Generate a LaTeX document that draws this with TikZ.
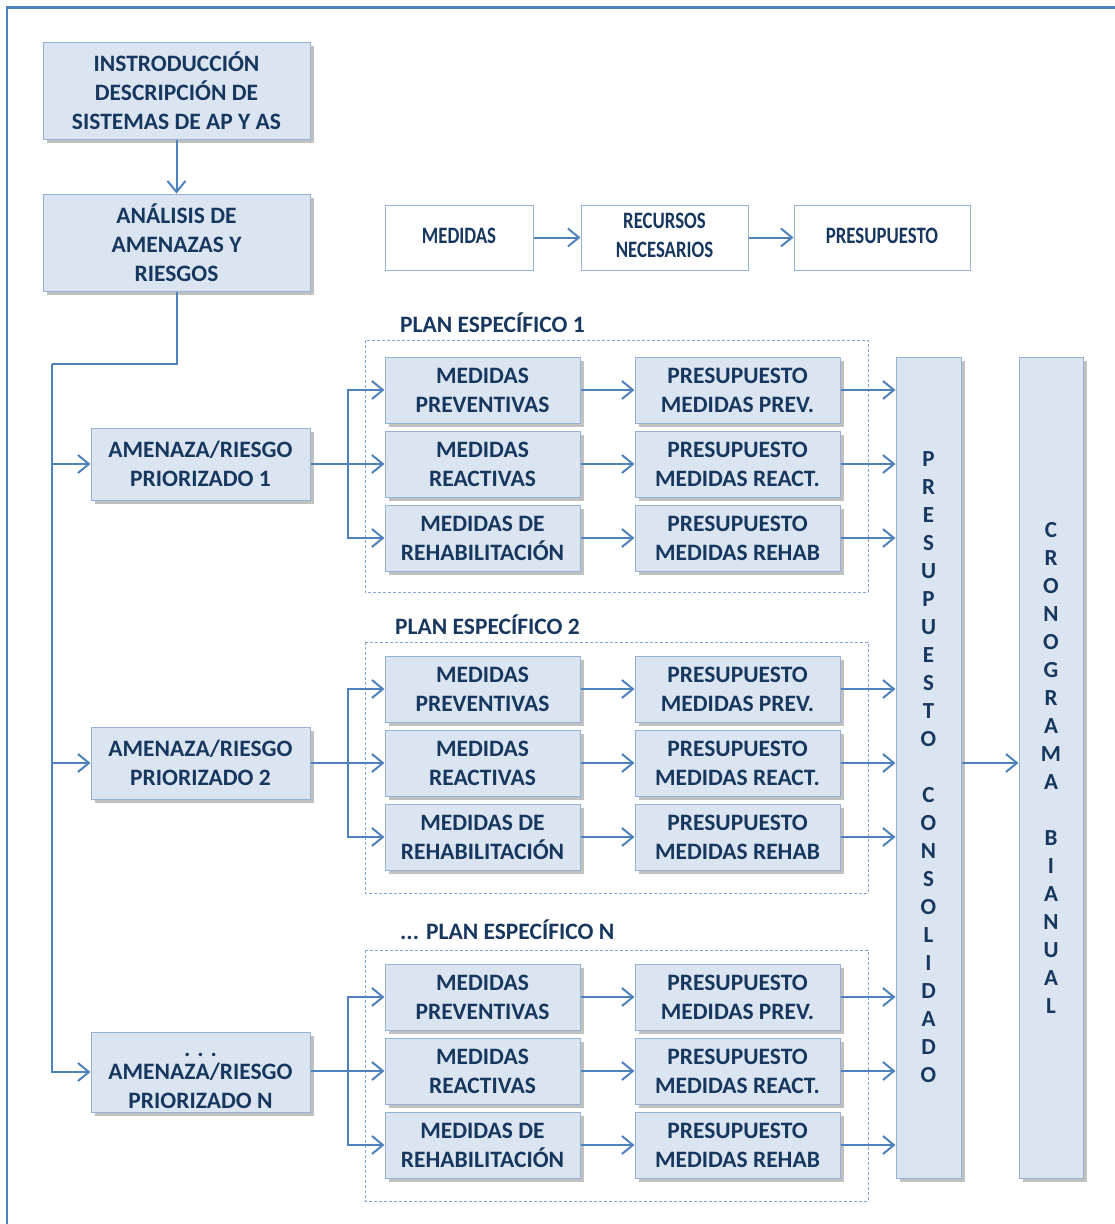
\documentclass[tikz,border=0pt]{standalone}
\usepackage{fontspec}
\usepackage{graphicx}
\setmainfont{Carlito}[BoldFont={Carlito Bold}]
\newcommand\narrowtxt[1]{\scalebox{0.8}[1]{\begin{tabular}{@{}c@{}}#1\end{tabular}}}
\usetikzlibrary{arrows.meta,shadows}
\definecolor{navy}{HTML}{17375E}
\definecolor{boxfill}{HTML}{DBE5F1}
\definecolor{boxline}{HTML}{95B3D7}
\definecolor{linkblue}{HTML}{4F81BD}
\definecolor{planline}{HTML}{7FA6D6}
\tikzset{>={Straight Barb[length=11pt,width=18pt]}}
\tikzset{
  txt/.style={text=navy, align=center, inner sep=0pt, font=\fontsize{23.5}{29}\selectfont\bfseries},
  stepbox/.style={txt, draw=boxline, fill=boxfill, line width=1pt,
    drop shadow={shadow xshift=4pt, shadow yshift=-4pt, fill=black!70, opacity=0.35}},
  headbox/.style={txt, draw=boxline, fill=white, line width=1pt, minimum height=65pt},
  medbox/.style={stepbox, minimum width=195pt, minimum height=66pt},
  presbox/.style={stepbox, minimum width=205pt, minimum height=66pt},
  riskbox/.style={stepbox, minimum width=219pt, minimum height=72pt},
  tallbox/.style={stepbox, minimum height=821pt, font=\fontsize{23}{28}\selectfont\bfseries},
  planbox/.style={draw=planline, line width=1pt, dash pattern=on 3pt off 2pt},
  link/.style={draw=linkblue, line width=2pt},
}

\begin{document}
\begin{tikzpicture}[x=1pt, y=-1pt]

  \useasboundingbox (0,0) rectangle (1115,1224);
  \draw[linkblue, line width=2.5pt] (7,1224) -- (7,7.5) -- (1115,7.5);

  % columna izquierda
  \node[stepbox, minimum width=267pt, minimum height=97pt] (intro) at (176.5,90.5) {INSTRODUCCIÓN\\DESCRIPCIÓN DE\\SISTEMAS DE AP Y AS};
  \node[stepbox, minimum width=267pt, minimum height=97pt] (analisis) at (176.5,242.5) {ANÁLISIS DE\\AMENAZAS Y\\RIESGOS};
  \draw[link, ->] (intro) -- (analisis);

  % fila de encabezado
  \node[headbox, minimum width=148pt] (hmed) at (459,237.5) {\narrowtxt{MEDIDAS}};
  \node[headbox, minimum width=167pt] (hrec) at (664.5,237.5) {\narrowtxt{RECURSOS\\NECESARIOS}};
  \node[headbox, minimum width=176pt] (hpres) at (882,237.5) {\narrowtxt{PRESUPUESTO}};
  \draw[link, ->] (hmed) -- (hrec);
  \draw[link, ->] (hrec) -- (hpres);

  % amenazas
  \node[riskbox] (am1) at (200.5,464) {AMENAZA/RIESGO\\PRIORIZADO 1};
  \node[riskbox] (am2) at (200.5,763) {AMENAZA/RIESGO\\PRIORIZADO 2};
  \node[riskbox, minimum height=80pt] (amN) at (200.5,1072)
    {\raisebox{-11pt}[20pt][20pt]{\begin{tabular}{@{}c@{}}. . .\\[-6pt]AMENAZA/RIESGO\\PRIORIZADO N\end{tabular}}};

  \coordinate (trunk) at (52,364);
  \draw[link] (analisis.south) |- (trunk);
  \draw[link, ->] (trunk) |- (amN.west);
  \draw[link, ->] (trunk |- am1.west) -- (am1.west);
  \draw[link, ->] (trunk |- am2.west) -- (am2.west);

  % plan 1
  \draw[planbox] (365,340) rectangle (868,592);
  \node[txt, anchor=base west] (plan1) at (400,332) {PLAN ESPECÍFICO 1};
  \node[medbox] (mp1) at (482.5,390) {MEDIDAS\\PREVENTIVAS};
  \node[medbox] (mr1) at (482.5,464) {MEDIDAS\\REACTIVAS};
  \node[medbox] (mh1) at (482.5,538) {MEDIDAS DE\\REHABILITACIÓN};
  \node[presbox] (pp1) at (737.5,390) {PRESUPUESTO\\MEDIDAS PREV.};
  \node[presbox] (pr1) at (737.5,464) {PRESUPUESTO\\MEDIDAS REACT.};
  \node[presbox] (ph1) at (737.5,538) {PRESUPUESTO\\MEDIDAS REHAB};

  % plan 2
  \draw[planbox] (365,642) rectangle (868,893);
  \node[txt, anchor=base west] (plan2) at (395,634) {PLAN ESPECÍFICO 2};
  \node[medbox] (mp2) at (482.5,689) {MEDIDAS\\PREVENTIVAS};
  \node[medbox] (mr2) at (482.5,763) {MEDIDAS\\REACTIVAS};
  \node[medbox] (mh2) at (482.5,837) {MEDIDAS DE\\REHABILITACIÓN};
  \node[presbox] (pp2) at (737.5,689) {PRESUPUESTO\\MEDIDAS PREV.};
  \node[presbox] (pr2) at (737.5,763) {PRESUPUESTO\\MEDIDAS REACT.};
  \node[presbox] (ph2) at (737.5,837) {PRESUPUESTO\\MEDIDAS REHAB};

  % plan N
  \draw[planbox] (365,950) rectangle (868,1201);
  \node[txt, anchor=base west] (planN) at (400,939) {... PLAN ESPECÍFICO N};
  \node[medbox] (mpN) at (482.5,997) {MEDIDAS\\PREVENTIVAS};
  \node[medbox] (mrN) at (482.5,1071) {MEDIDAS\\REACTIVAS};
  \node[medbox] (mhN) at (482.5,1145) {MEDIDAS DE\\REHABILITACIÓN};
  \node[presbox] (ppN) at (737.5,997) {PRESUPUESTO\\MEDIDAS PREV.};
  \node[presbox] (prN) at (737.5,1071) {PRESUPUESTO\\MEDIDAS REACT.};
  \node[presbox] (phN) at (737.5,1145) {PRESUPUESTO\\MEDIDAS REHAB};

  % columnas de la derecha
  \node[tallbox, minimum width=65pt] (cons) at (928.5,767.5) {P\\R\\E\\S\\U\\P\\U\\E\\S\\T\\O\\[28pt]C\\O\\N\\S\\O\\L\\I\\D\\A\\D\\O};
  \node[tallbox, minimum width=64pt] (crono) at (1051,767.5) {C\\R\\O\\N\\O\\G\\R\\A\\M\\A\\[28pt]B\\I\\A\\N\\U\\A\\L};
  \draw[link, ->] (cons.east |- am2.east) -- (crono.west |- am2.east);

  % ramas de cada amenaza
  \draw[link, ->] (am1.east) -- (mr1.west);
  \draw[link, ->] (am1.east) ++(37,0) |- (mp1.west);
  \draw[link, ->] (am1.east) ++(37,0) |- (mh1.west);
  \draw[link, ->] (am2.east) -- (mr2.west);
  \draw[link, ->] (am2.east) ++(37,0) |- (mp2.west);
  \draw[link, ->] (am2.east) ++(37,0) |- (mh2.west);
  \draw[link, ->] (amN.east |- mrN.west) -- (mrN.west);
  \draw[link, ->] (amN.east |- mrN.west) ++(37,0) |- (mpN.west);
  \draw[link, ->] (amN.east |- mrN.west) ++(37,0) |- (mhN.west);

  % medidas -> presupuesto -> consolidado
  \draw[link, ->] (mp1) -- (pp1);  \draw[link, ->] (pp1.east) -- (pp1.east -| cons.west);
  \draw[link, ->] (mr1) -- (pr1);  \draw[link, ->] (pr1.east) -- (pr1.east -| cons.west);
  \draw[link, ->] (mh1) -- (ph1);  \draw[link, ->] (ph1.east) -- (ph1.east -| cons.west);
  \draw[link, ->] (mp2) -- (pp2);  \draw[link, ->] (pp2.east) -- (pp2.east -| cons.west);
  \draw[link, ->] (mr2) -- (pr2);  \draw[link, ->] (pr2.east) -- (pr2.east -| cons.west);
  \draw[link, ->] (mh2) -- (ph2);  \draw[link, ->] (ph2.east) -- (ph2.east -| cons.west);
  \draw[link, ->] (mpN) -- (ppN);  \draw[link, ->] (ppN.east) -- (ppN.east -| cons.west);
  \draw[link, ->] (mrN) -- (prN);  \draw[link, ->] (prN.east) -- (prN.east -| cons.west);
  \draw[link, ->] (mhN) -- (phN);  \draw[link, ->] (phN.east) -- (phN.east -| cons.west);

\end{tikzpicture}
\end{document}
